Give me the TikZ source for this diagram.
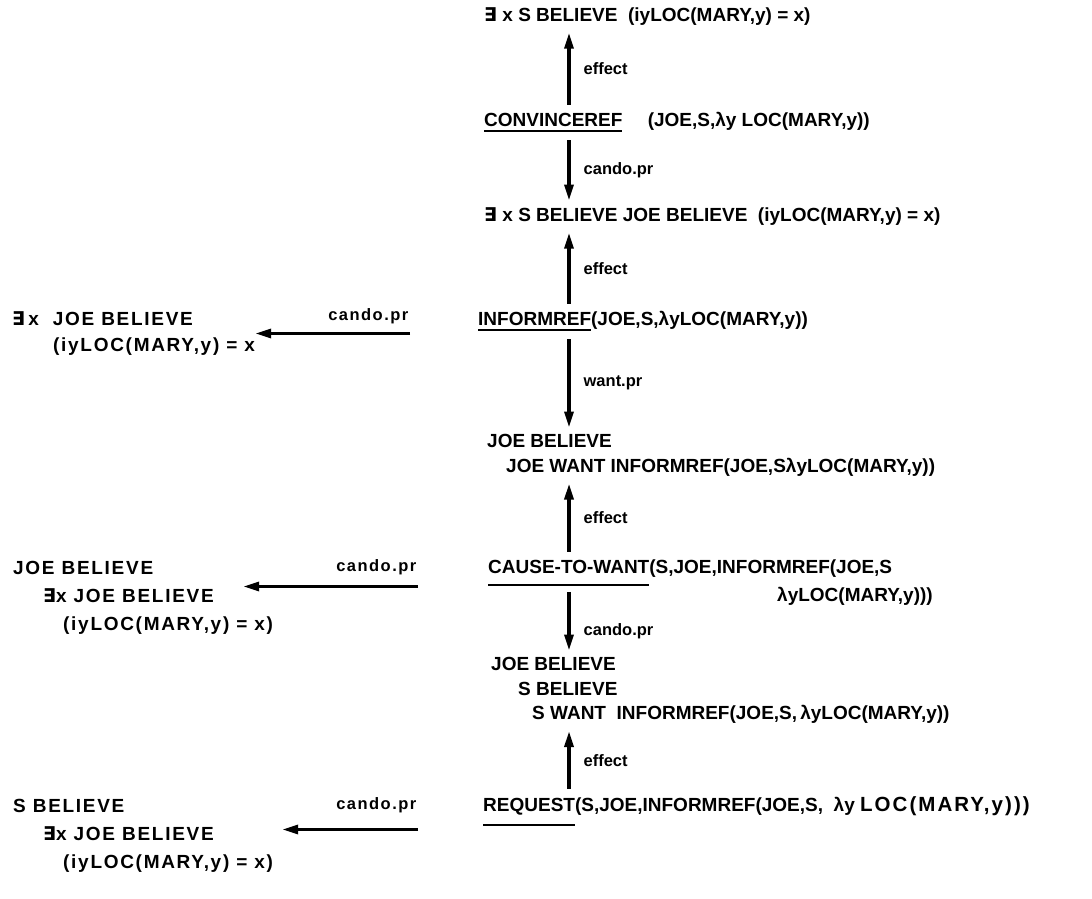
\documentclass[tikz,border=0pt]{standalone}
\usepackage{fontspec}
\setmainfont{Liberation Sans}
\newfontfamily\exfont{DejaVu Sans}
\newfontfamily\wideface[LetterSpace=9]{Liberation Sans}
\usepackage{tikz}
\usetikzlibrary{arrows.meta,positioning,calc}

\newcommand{\ex}{{\exfont\bfseries ∃}}
\newsavebox{\wordbox}
\newcommand{\lowline}[2]{\sbox{\wordbox}{#2}%
  \rlap{\rule[-#1]{\wd\wordbox}{2pt}}\usebox{\wordbox}}

\begin{document}
\begin{tikzpicture}[x=1pt,y=-1pt]
        \tikzstyle{stmt}
	  =[inner sep=0pt, anchor=north west, align=left,
	  font=\fontsize{19}{24.5}\selectfont\bfseries]
        \tikzstyle{side}
	  =[inner sep=0pt, anchor=north west, align=left,
	  font=\wideface\bfseries\fontsize{19}{28}\selectfont]
        \tikzstyle{lbl}
	  =[inner sep=0pt, font=\fontsize{16.5}{18}\selectfont\bfseries]
        \tikzstyle{slbl}
	  =[inner sep=0pt, anchor=south east,
	  font=\wideface\bfseries\fontsize{16.5}{18}\selectfont]
        \tikzstyle{arr}
	  =[line width=3.3pt, -{Triangle[length=16pt,width=9pt]},
	  shorten <=8pt, shorten >=7pt]

	\useasboundingbox (0,0) rectangle (1092,899);

	% main column
	\node[stmt] (A) at (484,7.5)
	  {\ex\ x S BELIEVE\ \ (iyLOC(MARY,y) = x)};
	\node[stmt] (B) at (484,112.5)
	  {\lowline{5pt}{CONVINCEREF}\hspace{20pt} (JOE,S,λy LOC(MARY,y))};
	\node[stmt] (C) at (484,207.5)
	  {\ex\ x S BELIEVE JOE BELIEVE\ \ (iyLOC(MARY,y) = x)};
	\node[stmt] (D) at (478,311.5)
	  {\lowline{5pt}{INFORMREF}(JOE,S,λyLOC(MARY,y))};
	\node[stmt] (E) at (487,434.5)
	  {JOE BELIEVE\\ \hspace*{19pt}JOE WANT INFORMREF(JOE,SλyLOC(MARY,y))};
	\node[stmt] (F) at (488,559.5)
	  {\lowline{13pt}{CAUSE-TO-WANT}(S,JOE,INFORMREF(JOE,S\\
	   \hspace*{289pt}λyLOC(MARY,y)))};
	\node[stmt] (G) at (491,657.5)
	  {JOE BELIEVE\\ \hspace*{27pt}S BELIEVE\\
	   \hspace*{41pt}S WANT\ \ INFORMREF(JOE,S,\,λyLOC(MARY,y))};
	\node[stmt] (H) at (483,796.5)
	  {\lowline{14pt}{REQUEST}(S,JOE,INFORMREF(JOE,S,\ \ λy
	   {\addfontfeature{LetterSpace=10}\fontsize{20.5}{24.5}\selectfont LOC(MARY,y)))}};

	% left column
	\node[side] (P) at (12,311)
	  {\ex\,x\ \ JOE BELIEVE\\[-2pt] \hspace*{41pt}(iyLOC(MARY,y) = x};
	\node[side] (Q) at (13,561.5)
	  {JOE BELIEVE\\ \hspace*{30pt}\ex x JOE BELIEVE\\
	   \hspace*{50pt}(iyLOC(MARY,y) = x)};
	\node[side] (R) at (13,799.5)
	  {S BELIEVE\\ \hspace*{30pt}\ex x JOE BELIEVE\\
	   \hspace*{50pt}(iyLOC(MARY,y) = x)};

	% vertical links
	\coordinate (col) at (569,0);
	\draw[arr] (B.north -| col) -- node[lbl, right=13pt] {effect} (A.south -| col);
	\draw[arr] (B.south -| col) -- node[lbl, right=13pt] {cando.pr} (C.north -| col);
	\draw[arr] (D.north -| col) -- node[lbl, right=13pt] {effect} (C.south -| col);
	\draw[arr] (D.south -| col) -- node[lbl, right=13pt] {want.pr} (E.north -| col);
	\draw[arr] (F.north -| col) -- node[lbl, right=13pt] {effect} (E.south -| col);
	\draw[arr, shorten <=-14pt] (F.south -| col) -- node[lbl, right=13pt] {cando.pr} (G.north -| col);
	\draw[arr] (H.north -| col) -- node[lbl, right=13pt] {effect} (G.south -| col);

	% side links
	\coordinate (d1) at ($(D.north west)+(-68,22)$);
	\coordinate (f1) at ($(F.north west)+(-70,27)$);
	\coordinate (h1) at ($(H.north west)+(-65,33)$);
	\draw[arr, shorten <=0pt, shorten >=0pt] (d1)
	  -- node[slbl, pos=0, yshift=8pt] {cando.pr} (d1 -| P.east);
	\draw[arr, shorten <=0pt, shorten >=0pt] (f1)
	  -- node[slbl, pos=0, yshift=10pt] {cando.pr} ([xshift=-30pt]f1 -| Q.east);
	\draw[arr, shorten <=0pt, shorten >=0pt] (h1)
	  -- node[slbl, pos=0, yshift=15pt] {cando.pr} ([xshift=9pt]h1 -| R.east);
\end{tikzpicture}
\end{document}
